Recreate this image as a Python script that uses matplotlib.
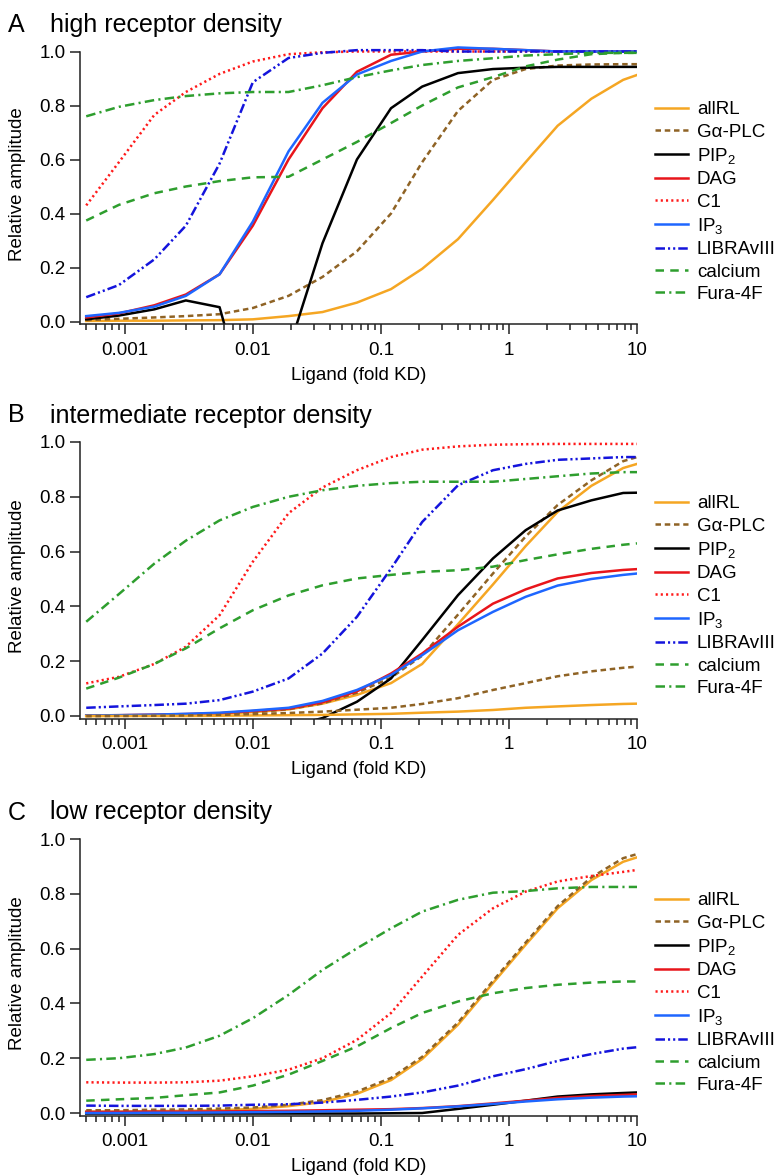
import numpy as np
import matplotlib
matplotlib.use("Agg")
import matplotlib.pyplot as plt
from matplotlib.ticker import LogLocator, FixedLocator, FixedFormatter, NullFormatter, FormatStrFormatter

plt.rcParams['font.family'] = ['Liberation Sans', 'DejaVu Sans']
plt.rcParams['mathtext.fontset'] = 'custom'
plt.rcParams['mathtext.rm'] = 'Liberation Sans'
plt.rcParams['mathtext.it'] = 'Liberation Sans:italic'

# ---------------- data ----------------
ligand = [0.0005, 0.0009, 0.0017, 0.003, 0.0055, 0.01, 0.019, 0.035, 0.065,
          0.12, 0.21, 0.4, 0.75, 1.35, 2.4, 4.4, 7.8, 10]

series_names = ["allRL", "Gα-PLC", r"PIP$_\mathregular{2}$", "DAG", "C1",
                r"IP$_\mathregular{3}$", "LIBRAvIII", "calcium", "Fura-4F"]

# Panel A: high receptor density
allRL_A = [0.002, 0.003, 0.003, 0.004, 0.005, 0.008, 0.02, 0.035, 0.07, 0.12, 0.195, 0.305, 0.45, 0.59, 0.725, 0.825, 0.895, 0.913]
gaplc_A = [0.005, 0.01, 0.015, 0.02, 0.027, 0.05, 0.095, 0.165, 0.26, 0.40, 0.59, 0.78, 0.895, 0.935, 0.948, 0.952, 0.953, 0.953]
pip2_A = [0.008, 0.022, 0.045, 0.078, 0.053, -0.39, -0.105, 0.29, 0.60, 0.79, 0.87, 0.92, 0.935, 0.94, 0.943, 0.943, 0.943, 0.943]
dag_A = [0.015, 0.03, 0.06, 0.10, 0.175, 0.355, 0.60, 0.79, 0.925, 0.988, 1.0, 1.01, 1.01, 1.005, 1.0, 1.0, 1.0, 1.0]
ip3_A = [0.02, 0.032, 0.055, 0.095, 0.175, 0.37, 0.63, 0.81, 0.915, 0.965, 1.0, 1.015, 1.01, 1.005, 1.0, 1.0, 1.0, 1.0]
c1_A = [0.43, 0.59, 0.765, 0.85, 0.917, 0.963, 0.99, 0.997, 1.0, 1.0, 1.0, 1.0, 1.0, 1.0, 1.0, 1.0, 1.0, 1.0]
libra_A = [0.09, 0.135, 0.23, 0.355, 0.585, 0.886, 0.976, 0.995, 1.005, 1.005, 1.005, 1.0, 1.0, 1.0, 1.0, 1.0, 1.0, 1.0]
calcium_A = [0.374, 0.432, 0.475, 0.50, 0.52, 0.534, 0.536, 0.60, 0.665, 0.735, 0.80, 0.867, 0.905, 0.945, 0.97, 0.99, 0.995, 0.995]
fura_A = [0.76, 0.795, 0.82, 0.835, 0.845, 0.85, 0.85, 0.875, 0.905, 0.93, 0.95, 0.965, 0.975, 0.985, 0.99, 0.995, 0.995, 0.995]

# Panel B: intermediate receptor density
allRL_B = [0.0, 0.001, 0.002, 0.003, 0.008, 0.014, 0.024, 0.045, 0.077, 0.12, 0.19, 0.335, 0.48, 0.62, 0.745, 0.84, 0.905, 0.92]
allRL_B_low = [0.0, 0.0, 0.0, 0.0, 0.001, 0.002, 0.003, 0.004, 0.006, 0.008, 0.012, 0.016, 0.022, 0.03, 0.035, 0.04, 0.044, 0.045]
gaplc_B = [0.0, 0.001, 0.002, 0.004, 0.008, 0.013, 0.025, 0.046, 0.085, 0.14, 0.22, 0.37, 0.52, 0.655, 0.77, 0.86, 0.93, 0.945]
gaplc_B_low = [0.0, 0.0, 0.001, 0.002, 0.004, 0.007, 0.011, 0.016, 0.023, 0.03, 0.044, 0.065, 0.095, 0.12, 0.145, 0.163, 0.176, 0.18]
pip2_B = [-0.05, -0.05, -0.05, -0.05, -0.05, -0.05, -0.04, -0.0075, 0.052, 0.137, 0.277, 0.441, 0.575, 0.678, 0.75, 0.787, 0.814, 0.815]
dag_B = [0.002, 0.003, 0.005, 0.007, 0.01, 0.018, 0.027, 0.05, 0.09, 0.155, 0.228, 0.326, 0.41, 0.462, 0.502, 0.522, 0.533, 0.536]
ip3_B = [0.002, 0.003, 0.005, 0.008, 0.012, 0.02, 0.03, 0.055, 0.095, 0.15, 0.222, 0.313, 0.38, 0.435, 0.476, 0.5, 0.515, 0.52]
c1_B = [0.119, 0.143, 0.19, 0.253, 0.368, 0.563, 0.74, 0.834, 0.897, 0.945, 0.972, 0.984, 0.99, 0.992, 0.993, 0.993, 0.993, 0.993]
libra_B = [0.03, 0.035, 0.04, 0.045, 0.058, 0.089, 0.137, 0.228, 0.362, 0.538, 0.708, 0.842, 0.897, 0.92, 0.935, 0.94, 0.945, 0.945]
calcium_B = [0.10, 0.14, 0.19, 0.247, 0.32, 0.386, 0.44, 0.477, 0.502, 0.515, 0.526, 0.532, 0.545, 0.569, 0.59, 0.61, 0.625, 0.63]
fura_B = [0.344, 0.445, 0.556, 0.64, 0.714, 0.763, 0.80, 0.824, 0.84, 0.85, 0.855, 0.855, 0.855, 0.865, 0.875, 0.885, 0.89, 0.89]

# Panel C: low receptor density
allRL_C = [0.005, 0.005, 0.007, 0.008, 0.01, 0.015, 0.025, 0.04, 0.07, 0.12, 0.197, 0.322, 0.474, 0.614, 0.747, 0.85, 0.917, 0.933]
gaplc_C = [0.01, 0.01, 0.012, 0.013, 0.016, 0.02, 0.03, 0.047, 0.078, 0.128, 0.205, 0.33, 0.482, 0.622, 0.755, 0.86, 0.93, 0.945]
pip2_C = [-0.002, -0.002, -0.002, -0.002, -0.002, -0.002, -0.002, -0.002, -0.002, -0.001, 0.0, 0.015, 0.03, 0.045, 0.06, 0.068, 0.073, 0.075]
dag_C = [0.004, 0.004, 0.005, 0.005, 0.006, 0.007, 0.008, 0.01, 0.012, 0.014, 0.018, 0.025, 0.035, 0.045, 0.055, 0.062, 0.066, 0.068]
ip3_C = [0.0, 0.0, 0.001, 0.001, 0.002, 0.003, 0.004, 0.006, 0.008, 0.012, 0.017, 0.024, 0.033, 0.042, 0.05, 0.056, 0.06, 0.061]
c1_C = [0.112, 0.111, 0.111, 0.112, 0.118, 0.134, 0.158, 0.20, 0.267, 0.365, 0.498, 0.65, 0.747, 0.808, 0.845, 0.865, 0.88, 0.887]
libra_C = [0.027, 0.026, 0.026, 0.026, 0.027, 0.03, 0.032, 0.038, 0.048, 0.06, 0.075, 0.10, 0.134, 0.16, 0.19, 0.215, 0.235, 0.24]
calcium_C = [0.045, 0.05, 0.055, 0.065, 0.075, 0.1, 0.14, 0.19, 0.243, 0.31, 0.365, 0.407, 0.437, 0.456, 0.468, 0.476, 0.48, 0.48]
fura_C = [0.194, 0.2, 0.215, 0.239, 0.282, 0.346, 0.431, 0.522, 0.601, 0.674, 0.735, 0.778, 0.804, 0.81, 0.82, 0.825, 0.825, 0.825]

panel_letters = ["A", "B", "C"]
panel_titles = ["high receptor density", "intermediate receptor density", "low receptor density"]
x_ticks = [0.001, 0.01, 0.1, 1, 10]
x_ticklabels = ["0.001", "0.01", "0.1", "1", "10"]
y_ticks = [0.0, 0.2, 0.4, 0.6, 0.8, 1.0]

# ---------------- styles ----------------
styles = [
    dict(color="#F5A623", ls="-"),
    dict(color="#8F6325", ls=(0, (2.2, 1.5))),
    dict(color="black", ls="-"),
    dict(color="#E8151B", ls="-"),
    dict(color="#FF1A1A", ls=(0, (0.85, 1.25))),
    dict(color="#1E66FF", ls="-"),
    dict(color="#1414DC", ls=(0, (3.8, 1.2, 0.85, 1.2, 0.85, 1.2))),
    dict(color="#2E9E2E", ls=(0, (3.4, 2.5))),
    dict(color="#2E9E2E", ls=(0, (3.8, 1.7, 0.85, 1.7))),
]

panels = [
    [allRL_A, gaplc_A, pip2_A, dag_A, c1_A, ip3_A, libra_A, calcium_A, fura_A],
    [allRL_B, gaplc_B, pip2_B, dag_B, c1_B, ip3_B, libra_B, calcium_B, fura_B],
    [allRL_C, gaplc_C, pip2_C, dag_C, c1_C, ip3_C, libra_C, calcium_C, fura_C],
]
extras = [[], [(allRL_B_low, 0), (gaplc_B_low, 1)], []]

# ---------------- layout (pixels) ----------------
W, H = 779, 1176
fig = plt.figure(figsize=(W / 100, H / 100), dpi=100)
x_left_px, x_right_px = 80, 637
y_levels = [(51.5, 321.5), (442, 716), (839, 1113)]  # pixel of y=1.0, y=0.0
legend_centers = [202, 596, 993]
YMIN, YMAX = -0.01, 1.03
FS = 13.5
LW = 1.8

for i in range(3):
    y1, y0 = y_levels[i]
    s = y0 - y1
    top_px = y1 - (YMAX - 1.0) * s
    bot_px = y0 - YMIN * s
    ax = fig.add_axes([x_left_px / W, 1 - bot_px / H,
                       (x_right_px - x_left_px) / W, (bot_px - top_px) / H])
    handles = []
    for data, name, st in zip(panels[i], series_names, styles):
        ln, = ax.plot(ligand, data, color=st["color"], linestyle=st["ls"],
                      lw=LW, label=name)
        handles.append(ln)
    for data, k in extras[i]:
        ax.plot(ligand, data, color=styles[k]["color"], linestyle=styles[k]["ls"],
                lw=LW, label="_nolegend_")
    ax.set_xscale("log")
    ax.set_xlim(0.000447, 10)
    ax.set_ylim(YMIN, YMAX)
    for sp in ["top", "right"]:
        ax.spines[sp].set_visible(False)
    ax.spines["left"].set_bounds(YMIN, 1.0)
    for sp in ["left", "bottom"]:
        ax.spines[sp].set_linewidth(1.1)
        ax.spines[sp].set_color("#222222")
    ax.xaxis.set_major_locator(FixedLocator(x_ticks))
    ax.xaxis.set_major_formatter(FixedFormatter(x_ticklabels))
    ax.xaxis.set_minor_locator(LogLocator(base=10, subs=np.arange(2, 10), numticks=20))
    ax.xaxis.set_minor_formatter(NullFormatter())
    ax.yaxis.set_major_locator(FixedLocator(y_ticks))
    ax.yaxis.set_major_formatter(FormatStrFormatter("%.1f"))
    ax.tick_params(axis="both", which="major", direction="out", length=7.5,
                   width=1.1, color="#222222", labelsize=FS)
    ax.tick_params(axis="x", which="major", pad=5)
    ax.tick_params(axis="y", which="major", pad=3)
    ax.tick_params(axis="x", which="minor", direction="out", length=4.3,
                   width=1.1, color="#222222")
    ax.set_ylabel("Relative amplitude", fontsize=FS)
    ax.yaxis.set_label_coords((26 - x_left_px) / (x_right_px - x_left_px), 0.5)
    ax.set_xlabel("Ligand (fold KD)", fontsize=FS, labelpad=6)
    ax.legend(handles=handles, loc="center left",
              bbox_to_anchor=(655 / W, 1 - legend_centers[i] / H),
              bbox_transform=fig.transFigure, frameon=False, fontsize=FS,
              borderpad=0, borderaxespad=0, handlelength=1.76,
              handletextpad=0.48, labelspacing=0.28)
    fig.text(8 / W, 1 - (y1 - 26.5) / H, panel_letters[i], fontsize=18, va="center", ha="left")
    fig.text(50 / W, 1 - (y1 - 26.5) / H, panel_titles[i], fontsize=18, va="center", ha="left")

fig.savefig("out.png", dpi=100)
